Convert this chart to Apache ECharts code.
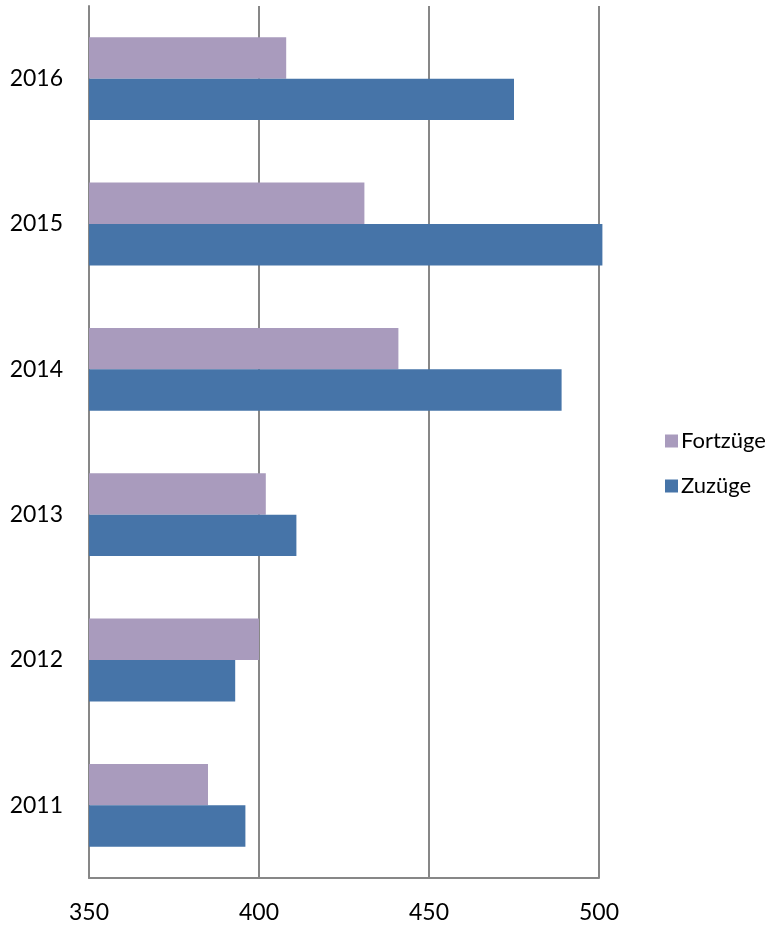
<!DOCTYPE html>
<html lang="de">
<head>
    <meta charset="utf-8">
    <title>Zuzüge und Fortzüge</title>
    <script src="https://cdn.jsdelivr.net/npm/echarts@6/dist/echarts.min.js"></script>
    <style>
        html, body { margin: 0; padding: 0; background: #fff; }
        #main { width: 771px; height: 927px; }
    </style>
</head>
<body>
<div id="main"></div>

<script type="text/javascript">
    // Daten
    var jahre = ['2011', '2012', '2013', '2014', '2015', '2016'];
    var fortzuege = [385, 400, 402, 441, 431, 408];
    var zuzuege = [396, 393, 411, 489, 501, 475];
    var xTicks = { min: 350, max: 500, interval: 50 };

    var grau = '#878787';
    var schrift = 'Lato, "Open Sans", sans-serif';

    var myChart = echarts.init(document.getElementById('main'));

    myChart.setOption({
        animation: false,
        grid: { left: 89, right: 172, top: 6, bottom: 49 },
        legend: {
            orient: 'vertical',
            left: 660,
            top: 425,
            itemWidth: 13,
            itemHeight: 13,
            itemGap: 23,
            icon: 'rect',
            textStyle: { fontFamily: schrift, fontSize: 22, color: '#000', padding: [0, 0, 0, -2] },
            data: ['Fortzüge', 'Zuzüge']
        },
        xAxis: {
            type: 'value',
            min: xTicks.min,
            max: xTicks.max,
            interval: xTicks.interval,
            startValue: xTicks.min,
            axisLine: { show: true, lineStyle: { color: grau, width: 2 } },
            axisTick: { show: false },
            splitLine: { show: true, lineStyle: { color: grau, width: 2 } },
            axisLabel: { fontFamily: schrift, fontSize: 23, color: '#000', margin: 23 }
        },
        yAxis: {
            type: 'category',
            data: jahre,
            axisLine: { show: true, lineStyle: { color: grau, width: 2 } },
            axisTick: { show: false },
            axisLabel: { fontFamily: schrift, fontSize: 23, color: '#000', margin: 26 }
        },
        series: [{
            name: 'Fortzüge',
            type: 'bar',
            data: fortzuege,
            clip: false,
            barGap: '0%',
            barCategoryGap: '43%',
            itemStyle: { color: '#A99BBD' }
        }, {
            name: 'Zuzüge',
            type: 'bar',
            data: zuzuege,
            clip: false,
            itemStyle: { color: '#4674A8' }
        }]
    });
</script>
</body>
</html>
